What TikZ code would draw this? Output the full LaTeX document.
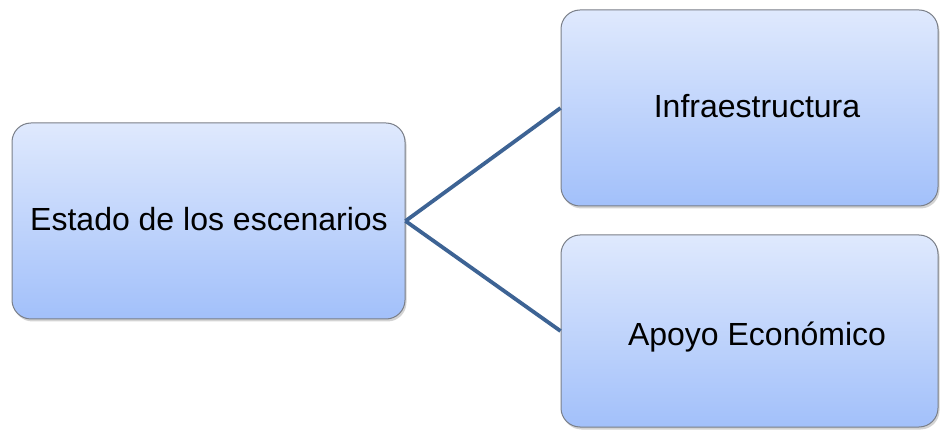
\documentclass[tikz,border=0pt]{standalone}
\usepackage{fontspec}
\setmainfont{Liberation Sans}
\usetikzlibrary{shadows}
\definecolor{boxtop}{HTML}{DFE9FD}
\definecolor{boxbot}{HTML}{A2C0FA}
\definecolor{boxline}{HTML}{7A7F88}
\definecolor{linkcol}{HTML}{3D6394}
\tikzset{
  box/.style={rectangle, rounded corners=19pt, draw=boxline, line width=1pt,
    top color=boxtop, bottom color=boxbot, inner sep=0pt,
    drop shadow={opacity=0.35, shadow xshift=1.5pt, shadow yshift=-2.5pt}},
  txt/.style={font=\fontsize{32}{36}\selectfont, text=black, inner sep=0pt, anchor=base},
  link/.style={draw=linkcol, line width=3.8pt}
}
\begin{document}
\begin{tikzpicture}[x=1pt,y=-1pt]
\useasboundingbox (0,0) rectangle (940,430);
\node[box, minimum width=393pt, minimum height=196pt] (L) at (208.5,221) {};
\node[box, minimum width=377pt, minimum height=196pt] (T) at (749.5,108) {};
\node[box, minimum width=377pt, minimum height=192pt] (B) at (749.5,331) {};
\node[txt] (Lt) at (209,231) {Estado de los escenarios};
\node[txt] (Tt) at (757,118) {Infraestructura};
\node[txt] (Bt) at (757,345) {Apoyo Económico};
\draw[link] (L.east) -- (T.west);
\draw[link] (L.east) -- (B.west);
\end{tikzpicture}
\end{document}
